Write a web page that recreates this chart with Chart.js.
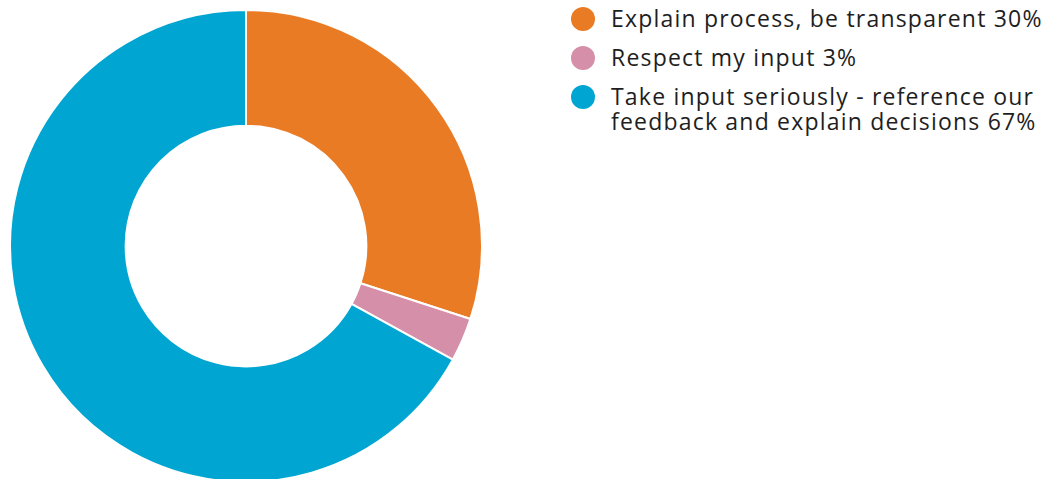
<!DOCTYPE html>
<html>
<head>
<meta charset="utf-8">
<script src="https://cdn.jsdelivr.net/npm/chart.js@4/dist/chart.umd.min.js"></script>
<style>
  html, body { margin: 0; padding: 0; background: #fff; overflow: hidden; }
  body { width: 1047px; height: 479px; position: relative; font-family: "Open Sans", sans-serif; }
  #wrap { position: absolute; left: 9px; top: 9px; width: 474px; height: 474px; }
  #legend { position: absolute; left: 571px; top: 6px; list-style: none; margin: 0; padding: 0; }
  #legend li { position: relative; padding-left: 40px; font-size: 23px; letter-spacing: 1.2px; line-height: 25px; color: #1e1e1e; margin-bottom: 14px; white-space: nowrap; }
  #legend li span.dot { position: absolute; left: 0; top: 1px; width: 24px; height: 24px; border-radius: 50%; }
</style>
</head>
<body>
<div id="wrap"><canvas id="donut"></canvas></div>
<ul id="legend"></ul>
<script>
// data
var labels = ['Explain process, be transparent', 'Respect my input', 'Take input seriously - reference our feedback and explain decisions'];
var legendLines = [
    ['Explain process, be transparent 30%'],
    ['Respect my input 3%'],
    ['Take input seriously - reference our', 'feedback and explain decisions 67%']
];
var values = [30, 3, 67];
var colors = ['#EA7B25', '#D58FA9', '#00A6D1'];

var ctx = document.getElementById('donut').getContext('2d');
var chart = new Chart(ctx, {
    type: 'doughnut',
    data: {
        labels: labels,
        datasets: [{
            data: values,
            backgroundColor: colors,
            borderColor: '#ffffff',
            borderWidth: 2
        }]
    },
    options: {
        responsive: true,
        maintainAspectRatio: false,
        animation: false,
        cutout: '51%',
        plugins: {
            legend: { display: false },
            tooltip: { enabled: false }
        }
    }
});

// html legend built from the same arrays
var ul = document.getElementById('legend');
legendLines.forEach(function (lines, i) {
    var li = document.createElement('li');
    var dot = document.createElement('span');
    dot.className = 'dot';
    dot.style.background = colors[i];
    li.appendChild(dot);
    lines.forEach(function (t, j) {
        if (j > 0) li.appendChild(document.createElement('br'));
        li.appendChild(document.createTextNode(t));
    });
    ul.appendChild(li);
});
</script>
</body>
</html>
